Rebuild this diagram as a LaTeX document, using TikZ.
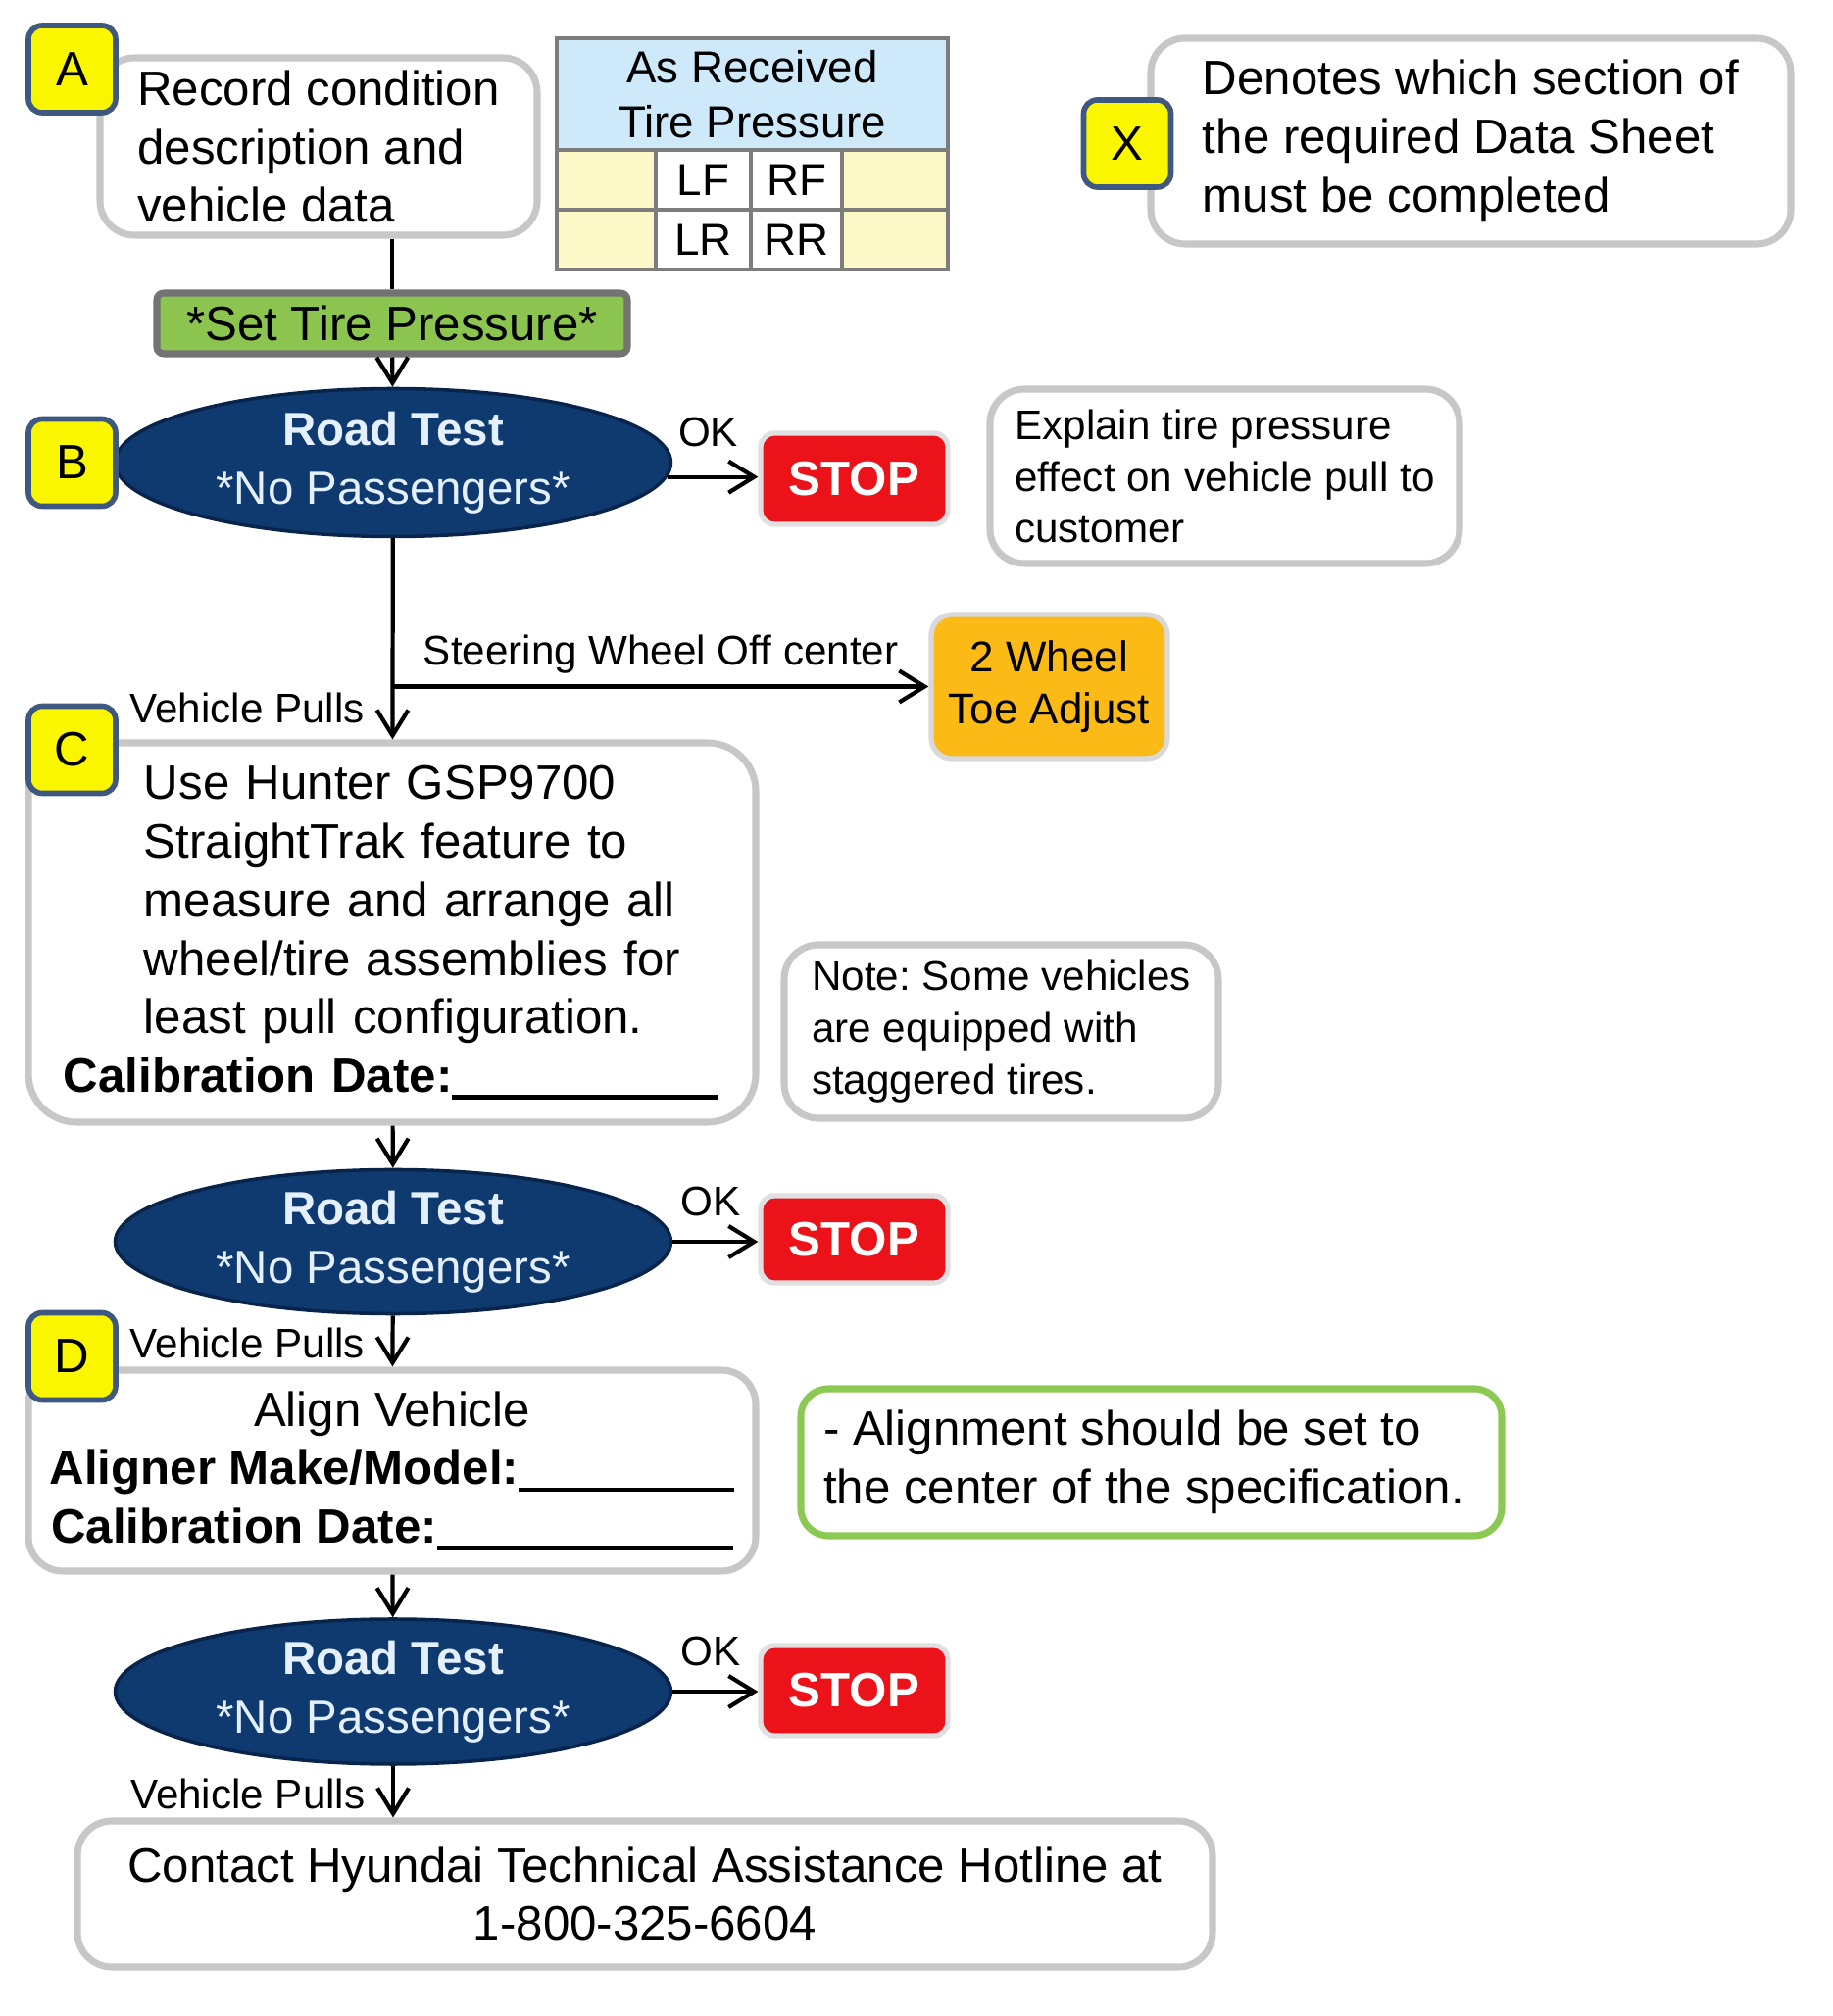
\documentclass[tikz,border=0pt]{standalone}
\usepackage{fontspec}
\setmainfont{Liberation Sans}
\usepackage{tikz}
\usetikzlibrary{arrows.meta, positioning, shapes.geometric}
\definecolor{hyNavy}{RGB}{14,58,112}
\definecolor{hyNavyEdge}{RGB}{8,36,74}
\definecolor{hyText}{RGB}{228,240,255}
\definecolor{hyYellow}{RGB}{250,246,0}
\definecolor{hySlate}{RGB}{62,88,128}
\definecolor{hyRed}{RGB}{236,18,26}
\definecolor{hyGreen}{RGB}{140,196,80}
\definecolor{hyGreenEdge}{RGB}{140,200,84}
\definecolor{hyOrange}{RGB}{252,186,22}
\definecolor{hySky}{RGB}{206,233,250}
\definecolor{hyCream}{RGB}{253,248,200}
\definecolor{hyGrid}{RGB}{125,125,125}

\begin{document}
\frenchspacing
\begin{tikzpicture}[
    font=\fontsize{14}{17}\selectfont, >={Straight Barb[length=2.6mm,width=3.2mm]},
    badge/.style={draw=hySlate, fill=hyYellow, line width=1.6pt, rounded corners=4pt,
                  minimum width=8.9mm, minimum height=8.9mm, inner sep=0pt},
    plain/.style={draw=black!22, fill=white, line width=2pt, rounded corners=10pt,
                  align=left, inner sep=0pt},
    small/.style={plain, font=\fontsize{12}{15}\selectfont},
    press/.style={draw=black!55, fill=hyGreen, line width=2pt, rounded corners=2pt,
                  minimum width=4.8cm, minimum height=6.2mm, inner sep=0pt},
    roadtest/.style={ellipse, draw=hyNavyEdge, fill=hyNavy, line width=1pt,
                  text=hyText, align=center, minimum width=5.67cm, inner sep=0pt,
                  font=\fontsize{13.5}{17}\selectfont},
    stopbox/.style={draw=black!12, fill=hyRed, line width=1.5pt, rounded corners=4pt,
                  text=white, minimum width=1.91cm, inner sep=0pt,
                  font=\fontsize{14}{17}\selectfont\bfseries},
    toebox/.style={draw=black!15, fill=hyOrange, line width=1.5pt, rounded corners=6pt,
                  align=center, minimum width=2.41cm, minimum height=1.47cm,
                  font=\fontsize{12.5}{15}\selectfont},
    tcell/.style={draw=hyGrid, line width=1pt, inner sep=0pt, minimum height=6.1mm,
                  font=\fontsize{13}{16}\selectfont},
    arr/.style={->, line width=1.2pt},
    ok/.style={above=2mm, inner sep=1pt, font=\fontsize{12}{14}\selectfont},
    pulls/.style={anchor=east, xshift=-2.3mm, inner sep=1pt,
                  font=\fontsize{12}{14}\selectfont}
]
\useasboundingbox (0,0) rectangle (18.69,20.57);

% --- Top row: record box, tire pressure table, legend.
\node[plain, minimum width=4.46cm, minimum height=1.81cm] (rec) at (3.25,19.075)
    {Record condition\\description and\\vehicle data};

\node[tcell, fill=hySky, minimum width=3.99cm, minimum height=1.14cm, align=center,
      font=\fontsize{13}{16}\selectfont] (tire) at (7.675,19.61) {As Received\\Tire Pressure};
\node[tcell, fill=hyCream, minimum width=1.01cm] (lfpad) at (6.185,18.735) {};
\node[tcell, fill=white,   minimum width=0.97cm] (lf)    at (7.175,18.735) {LF};
\node[tcell, fill=white,   minimum width=0.93cm] (rf)    at (8.125,18.735) {RF};
\node[tcell, fill=hyCream, minimum width=1.08cm] (rfpad) at (9.13 ,18.735) {};
\node[tcell, fill=hyCream, minimum width=1.01cm] (lrpad) at (6.185,18.125) {};
\node[tcell, fill=white,   minimum width=0.97cm] (lr)    at (7.175,18.125) {LR};
\node[tcell, fill=white,   minimum width=0.93cm] (rr)    at (8.125,18.125) {RR};
\node[tcell, fill=hyCream, minimum width=1.08cm] (rrpad) at (9.13 ,18.125) {};

\node[plain, minimum width=6.53cm, minimum height=2.10cm] (legend) at (15.005,19.13)
    {\rule{0pt}{3.5mm}Denotes which section of\\the required Data Sheet\\must be completed};

\node[press] (press) at (4.00,17.27) {*Set Tire Pressure*};

% --- First road test and its side notes.
\node[roadtest, minimum height=1.51cm] (test1) at (4.01,15.85)
    {\textbf{Road Test}\\*No Passengers*};
\node[stopbox, minimum height=0.93cm] (stop1) at (8.715,15.685) {STOP};
\node[small, minimum width=4.79cm, minimum height=1.78cm] (explain) at (12.495,15.71)
    {Explain tire pressure\\effect on vehicle pull to\\customer};
\node[toebox] (toe) at (10.705,13.565) {2 Wheel\\Toe Adjust};

% --- StraightTrak step.
\node[plain, rounded corners=14pt, minimum width=7.42cm, minimum height=3.87cm,
      text width=6.7cm] (track) at (4.00,11.055)
    {\hspace*{8.2mm}Use Hunter GSP9700\\
     \hspace*{8.2mm}StraightTrak feature to\\
     \hspace*{8.2mm}measure and arrange all\\
     \hspace*{8.2mm}wheel/tire assemblies for\\
     \hspace*{8.2mm}least pull configuration.\\
     \textbf{Calibration Date:}\rule[-2pt]{2.72cm}{1.2pt}};
\node[small, minimum width=4.43cm, minimum height=1.77cm] (note) at (10.215,10.045)
    {Note: Some vehicles\\are equipped with\\staggered tires.};

\node[roadtest, minimum height=1.47cm] (test2) at (4.01,7.90)
    {\textbf{Road Test}\\*No Passengers*};
\node[stopbox, minimum height=0.89cm] (stop2) at (8.715,7.925) {STOP};

% --- Alignment step.
\node[plain, align=center, minimum width=7.42cm, minimum height=2.05cm] (align) at (4.00,5.565)
    {Align Vehicle\\
     \textbf{Aligner Make/Model:}\rule[-2pt]{2.2cm}{1.2pt}\\
     \textbf{Calibration Date:}\rule[-2pt]{3.02cm}{1.2pt}};
\node[plain, draw=hyGreenEdge, rounded corners=8pt, minimum width=7.15cm,
      minimum height=1.50cm] (center) at (11.745,5.65)
    {- Alignment should be set to\\the center of the specification.\hspace*{1.5mm}};

\node[roadtest, minimum height=1.48cm] (test3) at (4.01,3.31)
    {\textbf{Road Test}\\*No Passengers*};
\node[stopbox, minimum height=0.92cm] (stop3) at (8.715,3.32) {STOP};

\node[plain, align=center, minimum width=11.58cm, minimum height=1.49cm] (hotline) at (6.58,1.245)
    {Contact Hyundai Technical Assistance Hotline at\\1-800-325-6604};

% --- Section badges (drawn last so they sit on the box corners).
\node[badge] (bA) at (0.735,19.865) {A};
\node[badge] (bX) at (11.50,19.105) {X};
\node[badge] (bB) at (0.735,15.85)  {B};
\node[badge] (bC) at (0.735,12.92)  {C};
\node[badge] (bD) at (0.735,6.73)   {D};

% --- Connectors.
\draw[line width=1.2pt] (rec.south -| press.north) -- (press.north);
\draw[arr] (press) -- (test1);
\draw[arr] (test1.-3) -- node[ok, yshift=0.5mm, pos=0.45] {OK} (test1.-3 -| stop1.west);
\draw[arr] (test1) -- node[pulls, pos=0.843] {Vehicle Pulls} (track);
\draw[arr] (test1.south |- toe.west) -- node[above=0.8mm, inner sep=1pt,
      font=\fontsize{12}{14}\selectfont] {Steering Wheel Off center} (toe.west);

\draw[arr] (track) -- (test2);
\draw[arr] (test2.east) -- node[ok, pos=0.45] {OK} (stop2.west |- test2.east);
\draw[arr] (test2) -- node[pulls, pos=0.53] {Vehicle Pulls} (align);

\draw[arr] (align) -- (test3);
\draw[arr] (test3.east) -- node[ok, pos=0.45] {OK} (stop3.west |- test3.east);
\draw[arr] (test3) -- node[pulls, pos=0.55] {Vehicle Pulls} (hotline.north -| test3.south);

\end{tikzpicture}
\end{document}
